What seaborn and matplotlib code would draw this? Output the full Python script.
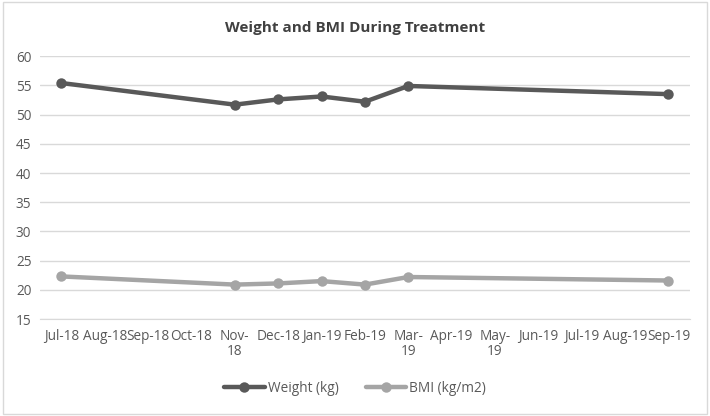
import matplotlib
matplotlib.use("Agg")
import matplotlib.pyplot as plt
import matplotlib.patches as mpatches
import seaborn as sns
import pandas as pd

dates = ["2018-07", "2018-11", "2018-12", "2019-01", "2019-02", "2019-03", "2019-09"]
weight = [55.4, 51.7, 52.6, 53.1, 52.2, 54.9, 53.5]
bmi = [22.3, 20.9, 21.1, 21.5, 20.9, 22.2, 21.6]

month_labels = ["Jul-18", "Aug-18", "Sep-18", "Oct-18", "Nov-\n18", "Dec-18", "Jan-19",
                "Feb-19", "Mar-\n19", "Apr-19", "May-\n19", "Jun-19", "Jul-19", "Aug-19", "Sep-19"]
y_ticks = [15, 20, 25, 30, 35, 40, 45, 50, 55, 60]

start = pd.Period("2018-07", freq="M")
month_idx = [(pd.Period(d, freq="M") - start).n for d in dates]

df = pd.DataFrame({
    "month": month_idx * 2,
    "value": weight + bmi,
    "series": ["Weight (kg)"] * len(weight) + ["BMI (kg/m2)"] * len(bmi),
})

sns.set_style("white")
plt.rcParams["font.family"] = ["Open Sans", "DejaVu Sans"]

fig = plt.figure(figsize=(7.1, 4.16), dpi=100)
ax = fig.add_axes([0.056, 0.233, 0.916, 0.632])

palette = {"Weight (kg)": "#595959", "BMI (kg/m2)": "#a5a5a5"}
sns.lineplot(data=df, x="month", y="value", hue="series", palette=palette,
             marker="o", markersize=7.5, markeredgewidth=0, linewidth=3.2,
             ax=ax, legend=False)

ax.set_xlim(-0.5, 14.5)
ax.set_ylim(15, 60)
ax.set_yticks(y_ticks)
ax.set_xticks(range(len(month_labels)))
ax.set_xticklabels(month_labels, fontsize=9.8, color="#595959", linespacing=1.05)
ax.tick_params(axis="y", labelsize=9.8, labelcolor="#595959", length=0, pad=6)
ax.tick_params(axis="x", length=0, pad=7)
ax.yaxis.grid(True, color="#d9d9d9", linewidth=1)
ax.set_axisbelow(True)
for s in ["left", "right", "top"]:
    ax.spines[s].set_visible(False)
ax.spines["bottom"].set_color("#d9d9d9")
ax.set_xlabel("")
ax.set_ylabel("")

fig.suptitle("Weight and BMI During Treatment", x=0.5, y=0.95, fontsize=11,
             fontweight="bold", color="#404040")

handles = [plt.Line2D([], [], color=palette[k], marker="o", markersize=7.5,
                      markeredgewidth=0, linewidth=3.2) for k in palette]
fig.legend(handles, list(palette), loc="center", bbox_to_anchor=(0.5, 0.067),
           ncol=2, frameon=False, fontsize=9.8, handlelength=3, handletextpad=0.2,
           columnspacing=2.0, labelcolor="#595959")

border = mpatches.Rectangle((0.004, 0.006), 0.992, 0.988, transform=fig.transFigure,
                            fill=False, edgecolor="#d9d9d9", linewidth=1)
fig.patches.append(border)

fig.savefig("out.png", dpi=100)
